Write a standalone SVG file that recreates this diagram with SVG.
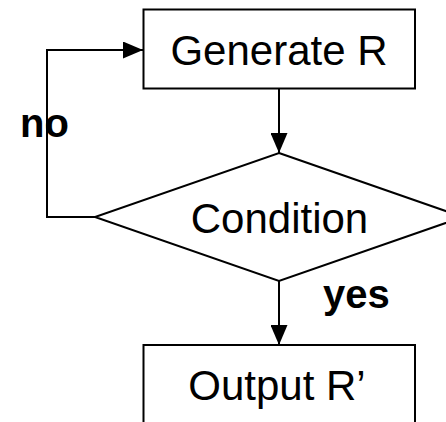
<svg xmlns="http://www.w3.org/2000/svg" width="446" height="422" viewBox="0 0 446 422">
  <style>
    .shape { fill: #ffffff; stroke: #000000; stroke-width: 2; }
    .wire { fill: none; stroke: #000000; stroke-width: 2; }
    .label { font-family: "Liberation Sans", Arial, sans-serif; font-size: 42px; fill: #000000; text-anchor: middle; }
    .tag { font-family: "Liberation Sans", Arial, sans-serif; font-size: 40px; font-weight: bold; fill: #000000; }
  </style>
  <defs>
    <marker id="arrow" viewBox="0 0 20 17" refX="20" refY="8.5" markerWidth="20" markerHeight="17" markerUnits="userSpaceOnUse" orient="auto">
      <path d="M0,0 L20,8.5 L0,17 Z" fill="#000000"/>
    </marker>
  </defs>

  <rect width="446" height="422" fill="#ffffff"/>

  <g id="connectors">
    <!-- generate -> condition -->
    <line class="wire" x1="279" y1="89" x2="279" y2="153" marker-end="url(#arrow)"/>
    <!-- condition (no) -> back to generate -->
    <polyline class="wire" points="95,217 47,217 47,50 143,50" marker-end="url(#arrow)"/>
    <!-- condition (yes) -> output -->
    <line class="wire" x1="279" y1="281" x2="279" y2="345" marker-end="url(#arrow)"/>
  </g>

  <g id="generate">
    <rect class="shape" x="143.5" y="9.5" width="271.5" height="79"/>
    <text class="label" x="279" y="65">Generate R</text>
  </g>

  <g id="condition">
    <polygon class="shape" points="279,153 463,217 279,281 95,217"/>
    <text class="label" x="279.5" y="233">Condition</text>
  </g>

  <g id="output">
    <rect class="shape" x="143.5" y="345" width="271.5" height="90"/>
    <text class="label" x="277" y="400">Output R’</text>
  </g>

  <text class="tag" x="20" y="137">no</text>
  <text class="tag" x="323" y="308">yes</text>
</svg>
